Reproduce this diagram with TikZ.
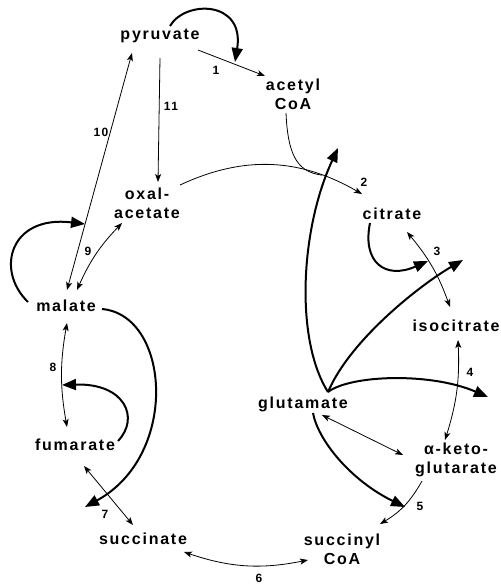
\documentclass[tikz,border=0pt]{standalone}
\usepackage{fontspec}
\setmainfont{Liberation Sans}[LetterSpace=11]
\usetikzlibrary{arrows.meta,calc}

\begin{document}
\begin{tikzpicture} [x=1pt,y=1pt,met/.style={font=\fontsize{16}{19}\selectfont\bfseries, inner sep=1pt, align=center},num/.style={font=\fontsize{12}{13}\selectfont\bfseries, inner sep=1pt},rx/.style={line width=0.8pt, -{Stealth[length=8pt,width=6pt,inset=2pt]}},rxx/.style={line width=0.8pt, {Stealth[length=8pt,width=6pt,inset=2pt]}-{Stealth[length=8pt,width=6pt,inset=2pt]}},eff/.style={line width=2pt, -{Triangle[length=14pt,width=11pt]}}]
  \useasboundingbox (0,0) rectangle (501,-587);

  \node[met] (pyr) at (160,-36) {pyruvate};
  \node[met] (acc) at (293,-94) {acetyl\\CoA};
  \node[met] (oaa) at (147,-203) {oxal-\\acetate};
  \node[met] (cit) at (392,-214) {citrate};
  \node[met] (mal) at (66,-306) {malate};
  \node[met] (icit) at (456,-326) {isocitrate};
  \node[met] (glu) at (303,-404) {glutamate};
  \node[met] (fum) at (75,-445) {fumarate};
  \node[met] (akg) at (456,-460) {α-keto-\\glutarate};
  \node[met] (suc) at (143,-539) {succinate};
  \node[met] (sca) at (342,-549) {succinyl\\CoA};

  \node[num] (n1) at (216,-70) {1};
  \node[num] (n2) at (364,-182) {2};
  \node[num] (n3) at (437,-251) {3};
  \node[num] (n4) at (470,-372) {4};
  \node[num] (n5) at (420,-506) {5};
  \node[num] (n6) at (259,-578) {6};
  \node[num] (n7) at (105,-514) {7};
  \node[num] (n8) at (53,-367) {8};
  \node[num] (n9) at (88,-251) {9};
  \node[num] (n10) at (101,-132) {10};
  \node[num] (n11) at (171,-106) {11};

  \coordinate (t1) at (235,-62);
  \coordinate (t3) at (428,-261);
  \coordinate (t7) at (85,-507);
  \coordinate (t8) at (62,-385);
  \coordinate (t10) at (85,-224);
  \coordinate (g0) at ($(glu)+(25,12)$);
  \coordinate (g1) at (338,-148);
  \coordinate (g2) at (463,-260);
  \coordinate (g3) at (488,-397);
  \coordinate (g4) at (405,-507);

    \draw[rx] ($(pyr)+(38,-14)$) -- ($(acc)+(-28,18)$);
    \draw[eff] ($(pyr)+(10,10)$) .. controls (185,0) and (245,0) .. (t1);
    \draw[rx] ($(pyr)+(0,-22)$) -- ($(oaa)+(11,21)$);
    \draw[rxx] ($(mal)+(1,16)$) -- ($(pyr)+(-28,-17)$);
    \draw[eff] ($(mal)+(-38,4)$) .. controls (-5,-270) and (10,-215) .. (t10);
    \draw[rxx] ($(mal)+(11,16)$) to[bend left=10] ($(oaa)+(-25,-20)$);
    \draw[rx] ($(oaa)+(33,18)$) to[out=25,in=150] node[pos=0.78,coordinate] (m2) {} ($(cit)+(-30,20)$);
    \draw[line width=0.8pt] ($(acc)+(-7,-19)$) .. controls (288,-160) and (300,-172) .. (m2);
    \draw[rxx] ($(cit)+(15,-18)$) to[bend left=10] ($(icit)+(-6,19)$);
    \draw[eff] ($(cit)+(-22,-9)$) .. controls (362,-262) and (385,-280) .. (t3);
    \draw[rxx] ($(icit)+(2,-14)$) to[bend left=10] ($(akg)+(-11,20)$);
    \draw[rx] ($(akg)+(-34,-21)$) to[bend left=15] ($(sca)+(38,25)$);
    \draw[rxx] ($(suc)+(41,-13)$) to[bend right=15] ($(sca)+(-34,-11)$);
    \draw[rxx] ($(fum)+(9,-21)$) -- ($(suc)+(-10,14)$);
    \draw[eff] ($(mal)+(36,-3)$) .. controls (170,-315) and (180,-455) .. (t7);
    \draw[rxx] ($(mal)+(1,-17)$) to[bend right=10] ($(fum)+(-8,18)$);
    \draw[eff] ($(fum)+(43,4)$) .. controls (140,-418) and (125,-383) .. (t8);
    \draw[rxx] ($(glu)+(19,-11)$) -- ($(akg)+(-53,5)$);
    \draw[eff] (g0) .. controls (295,-340) and (300,-230) .. (g1);
    \draw[eff] (g0) .. controls (350,-340) and (420,-285) .. (g2);
    \draw[eff] (g0) .. controls (350,-375) and (430,-372) .. (g3);
    \draw[eff] ($(glu)+(10,-9)$) .. controls (318,-440) and (350,-480) .. (g4);

\end{tikzpicture}
\end{document}
